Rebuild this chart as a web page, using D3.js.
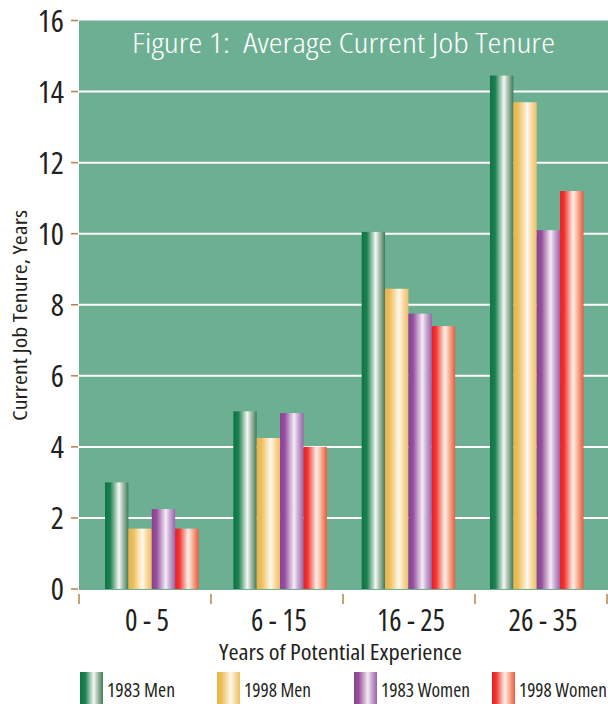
<!DOCTYPE html>
<html>
<head>
<meta charset="utf-8">
<script src="https://cdn.jsdelivr.net/npm/d3@7"></script>
<style>
  html, body { margin: 0; padding: 0; background: #ffffff; }
  svg { display: block; }
  text { font-family: "Open Sans", "Noto Sans", sans-serif; font-stretch: 75%; fill: #231f20; }
</style>
</head>
<body>
<svg id="chart" width="608" height="704"></svg>
<script>
// Average current job tenure (years) by years of potential experience
const categories = ["0 - 5", "6 - 15", "16 - 25", "26 - 35"];
const seriesNames = ["1983 Men", "1998 Men", "1983 Women", "1998 Women"];
const men1983   = [3.0, 5.0, 10.05, 14.45];
const men1998   = [1.7, 4.25, 8.45, 13.7];
const women1983 = [2.25, 4.95, 7.75, 10.1];
const women1998 = [1.7, 4.0, 7.4, 11.2];
const yTicks = [0, 2, 4, 6, 8, 10, 12, 14, 16];

const seriesValues = [men1983, men1998, women1983, women1998];

// horizontal "cylinder" shading for each series: dark edge, white highlight, tinted edge
const gradientStops = [
  [[0, "#0e7546"], [0.22, "#1b7f50"], [0.6, "#f6f8f2"], [0.72, "#bccdbf"], [1, "#3e7c56"]],
  [[0, "#eab448"], [0.2, "#edbd5c"], [0.6, "#fff9ea"], [0.75, "#f8deb0"], [1, "#eebf60"]],
  [[0, "#8b4093"], [0.2, "#954f9d"], [0.6, "#f5ecf6"], [0.75, "#cdb0d6"], [1, "#9a63a9"]],
  [[0, "#ed1c24"], [0.18, "#ef3630"], [0.56, "#fff2ea"], [0.72, "#f9b9a3"], [1, "#ec5a3c"]]
];

const svg = d3.select("#chart");
const plot = { left: 79, right: 608, top: 20.5, bottom: 590 };

const y = d3.scaleLinear().domain([0, 16]).range([589, 20.5]);
const xAxisScale = d3.scaleBand().domain(categories).range([79, 607]);
const xBars = d3.scaleBand().domain(categories).range([105, 583.5]).paddingInner(0.271).paddingOuter(0);
const xInner = d3.scaleBand().domain(seriesNames).range([0, xBars.bandwidth()]);

// gradients
const defs = svg.append("defs");
seriesNames.forEach((name, i) => {
  const g = defs.append("linearGradient")
    .attr("id", "grad" + i)
    .attr("x1", "0%").attr("x2", "100%").attr("y1", "0%").attr("y2", "0%");
  gradientStops[i].forEach(([o, c]) => g.append("stop").attr("offset", o).attr("stop-color", c));
});

// plot background
svg.append("rect")
  .attr("x", plot.left).attr("y", plot.top)
  .attr("width", plot.right - plot.left).attr("height", plot.bottom - plot.top)
  .attr("fill", "#6daf93");

// white gridlines
svg.append("g").selectAll("line")
  .data(yTicks.filter(t => t > 0 && t < 16))
  .join("line")
  .attr("x1", plot.left).attr("x2", plot.right)
  .attr("y1", d => y(d)).attr("y2", d => y(d))
  .attr("stroke", "#ffffff").attr("stroke-width", 2);

// title
svg.append("text")
  .attr("x", 132).attr("y", 53)
  .attr("textLength", 423).attr("lengthAdjust", "spacingAndGlyphs")
  .style("fill", "#ffffff").style("font-size", "28px").style("font-weight", 300)
  .style("white-space", "pre")
  .text("Figure 1:  Average Current Job Tenure");

// bars
const groups = svg.append("g").selectAll("g")
  .data(categories)
  .join("g")
  .attr("transform", d => `translate(${xBars(d)},0)`);

groups.selectAll("rect")
  .data((c, ci) => seriesNames.map((s, si) => ({ s, si, v: seriesValues[si][ci] })))
  .join("rect")
  .attr("x", d => xInner(d.s))
  .attr("width", xInner.bandwidth())
  .attr("y", d => y(d.v))
  .attr("height", d => y(0) - y(d.v))
  .attr("fill", d => `url(#grad${d.si})`);

// y axis: tan tick marks and large labels
const yAxis = svg.append("g");
yAxis.selectAll("line")
  .data(yTicks)
  .join("line")
  .attr("x1", 71).attr("x2", 78)
  .attr("y1", d => y(d)).attr("y2", d => y(d))
  .attr("stroke", "#b5824c").attr("stroke-width", 1.5);
yAxis.selectAll("text")
  .data(yTicks)
  .join("text")
  .attr("x", 64).attr("y", d => y(d) + 11)
  .attr("text-anchor", "end")
  .style("font-size", "31px")
  .text(d => d);

// x axis: tick marks at band edges, category labels at centres
const xEdges = categories.map(c => xAxisScale(c)).concat([xAxisScale.range()[1]]);
svg.append("g").selectAll("line")
  .data(xEdges)
  .join("line")
  .attr("x1", d => d).attr("x2", d => d)
  .attr("y1", 594).attr("y2", 604)
  .attr("stroke", "#b5824c").attr("stroke-width", 1.5);

const xLabelWidths = [44, 56, 68, 69];
svg.append("g").selectAll("text")
  .data(categories)
  .join("text")
  .attr("x", (d, i) => xAxisScale(d) + xAxisScale.bandwidth() / 2 - xLabelWidths[i] / 2 + 2)
  .attr("y", 631)
  .attr("textLength", (d, i) => xLabelWidths[i])
  .attr("lengthAdjust", "spacingAndGlyphs")
  .style("font-size", "30px")
  .text(d => d);

// axis titles
svg.append("text")
  .attr("x", 219).attr("y", 660)
  .attr("textLength", 243).attr("lengthAdjust", "spacingAndGlyphs")
  .style("font-size", "21px")
  .text("Years of Potential Experience");

svg.append("text")
  .attr("transform", "translate(27,421) rotate(-90)")
  .attr("x", 0).attr("y", 0)
  .attr("textLength", 211).attr("lengthAdjust", "spacingAndGlyphs")
  .style("font-size", "20px")
  .text("Current Job Tenure, Years");

// legend
const legendX = [80, 217, 354, 492];
const legendTextW = [68, 67, 89, 88];
const legend = svg.append("g").selectAll("g")
  .data(seriesNames)
  .join("g")
  .attr("transform", (d, i) => `translate(${legendX[i]},672)`);
legend.append("rect")
  .attr("width", 23).attr("height", 32)
  .attr("fill", (d, i) => `url(#grad${i})`);
legend.append("text")
  .attr("x", 27).attr("y", 25)
  .attr("textLength", (d, i) => legendTextW[i])
  .attr("lengthAdjust", "spacingAndGlyphs")
  .style("font-size", "19px")
  .text(d => d);
</script>
</body>
</html>
